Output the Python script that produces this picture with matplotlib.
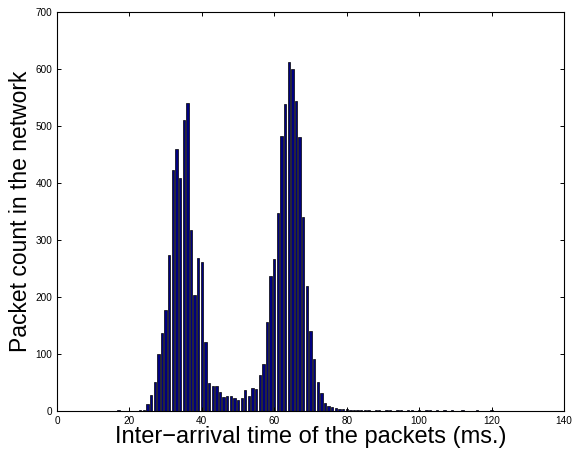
import matplotlib
matplotlib.use('Agg')
import matplotlib.pyplot as plt
import numpy as np

# inter-arrival time bins (ms) and packet counts
bins = list(range(17, 121))
counts = [2, 0, 0, 0, 0, 0, 1, 2,                       # 17-24
          12, 28, 50, 100, 136, 177, 274, 422, 460, 408,  # 25-34
          510, 540, 318, 203, 269, 262, 121, 49, 44, 44,  # 35-44
          33, 25, 27, 26, 22, 19, 23, 36, 26, 40,         # 45-54
          38, 64, 82, 157, 237, 267, 348, 483, 538, 613,  # 55-64
          600, 544, 481, 340, 219, 141, 92, 50, 31, 14,   # 65-74
          8, 7, 5, 4, 3, 4, 2, 1, 2, 1,                   # 75-84
          1, 1, 0, 1, 1, 0, 1, 1, 0, 1,                   # 85-94
          1, 0, 1, 1, 0, 1, 0, 1, 1, 0,                   # 95-104
          1, 0, 1, 0, 1, 0, 0, 1, 0, 0,                   # 105-114
          0, 1, 0, 0, 0, 1]                               # 115-120

xticks = [0, 20, 40, 60, 80, 100, 120, 140]
yticks = [0, 100, 200, 300, 400, 500, 600, 700]

plt.rcParams['font.family'] = ['Liberation Sans', 'DejaVu Sans']

fig = plt.figure(figsize=(5.74, 4.5), dpi=100)
ax = fig.add_axes([0.0993, 0.0867, 0.8833, 0.8866])

ax.bar(bins, counts, width=0.65, color='#000080', edgecolor='black', linewidth=0.5)

ax.set_xlim(0, 140)
ax.set_ylim(0, 700)
ax.set_xticks(xticks)
ax.set_yticks(yticks)
ax.tick_params(direction='in', length=3, width=0.7, labelsize=7.2,
               top=True, right=True, pad=3.5)
for s in ax.spines.values():
    s.set_linewidth(0.8)

ax.set_xlabel('Inter\u2212arrival time of the packets (ms.)', fontsize=17, labelpad=0)
ax.set_ylabel('Packet count in the network', fontsize=16.5, labelpad=2)

fig.savefig('out.png', dpi=100)
